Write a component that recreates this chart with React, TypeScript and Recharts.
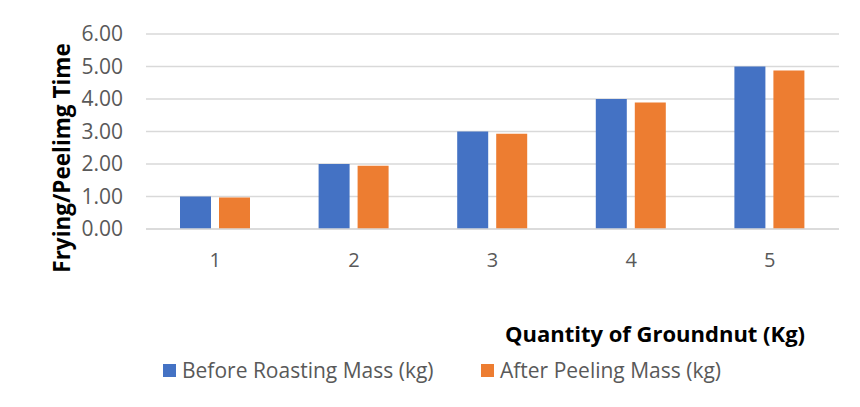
import React from "react";
import { BarChart, Bar, XAxis, YAxis, CartesianGrid } from "recharts";

const categories = ["1", "2", "3", "4", "5"];
const beforeRoasting = [1.0, 2.0, 3.0, 4.0, 5.0];
const afterPeeling = [0.97, 1.95, 2.93, 3.89, 4.88];
const yTicks = [0, 1, 2, 3, 4, 5, 6];
const seriesNames = ["Before Roasting Mass (kg)", "After Peeling Mass (kg)"];
const seriesColors = ["#4472C4", "#ED7D31"];

const data = categories.map((c, i) => ({
  cat: c,
  before: beforeRoasting[i],
  after: afterPeeling[i],
}));

const FONT = "'Open Sans', sans-serif";

export default function App() {
  return (
    <div style={{ margin: -8, position: "relative", width: 860, height: 407, background: "#fff", fontFamily: FONT }}>
      <div style={{ position: "absolute", left: 0, top: 0, boxShadow: "inset 8px 7px 0 -6px #d9d9d9", width: 860, height: 407 }}>
        <BarChart
          width={860}
          height={407}
          data={data}
          margin={{ top: 34, right: 21, bottom: 148, left: 0 }}
          barCategoryGap={34}
          barGap={8}
        >
          <CartesianGrid vertical={false} stroke="#d9d9d9" strokeWidth={1.5} />
          <XAxis
            dataKey="cat"
            height={30}
            axisLine={{ stroke: "#d9d9d9", strokeWidth: 1.5 }}
            tickLine={false}
            tickSize={0}
            tickMargin={24}
            tick={{ fill: "#595959", fontSize: 20, fontFamily: FONT }}
          />
          <YAxis
            width={146}
            domain={[0, 6]}
            ticks={yTicks}
            axisLine={false}
            tickLine={false}
            tickSize={0}
            tickMargin={23}
            tickFormatter={(v: number) => v.toFixed(2)}
            tick={{ fill: "#595959", fontSize: 21, fontFamily: FONT }}
          />
          <Bar dataKey="before" name={seriesNames[0]} fill={seriesColors[0]} isAnimationActive={false} />
          <Bar dataKey="after" name={seriesNames[1]} fill={seriesColors[1]} isAnimationActive={false} />
        </BarChart>
      </div>
      <div style={{ position: "absolute", left: 6, top: 4, width: 2, height: 403, background: "#d0d0d0" }} />
      <div style={{ position: "absolute", left: 6, top: 4, width: 854, height: 2, background: "#d0d0d0" }} />
      <div
        style={{
          position: "absolute",
          left: 61,
          top: 158,
          transform: "translate(-50%, -50%) rotate(-90deg)",
          whiteSpace: "nowrap",
          fontWeight: 700,
          fontSize: 22.5,
          color: "#000",
        }}
      >
        Frying/Peelimg Time
      </div>
      <div
        style={{
          position: "absolute",
          left: 655,
          top: 333,
          transform: "translate(-50%, -50%)",
          whiteSpace: "nowrap",
          fontWeight: 700,
          fontSize: 22,
          color: "#000",
        }}
      >
        Quantity of Groundnut (Kg)
      </div>
      {seriesNames.map((n, i) => (
        <div
          key={n}
          style={{
            position: "absolute",
            left: i === 0 ? 163 : 481,
            top: 370,
            transform: "translateY(-50%)",
            display: "flex",
            alignItems: "center",
            whiteSpace: "nowrap",
            fontSize: 21,
            color: "#595959",
          }}
        >
          <span style={{ display: "inline-block", width: 13, height: 13, background: seriesColors[i], marginRight: 6 }} />
          {n}
        </div>
      ))}
    </div>
  );
}
